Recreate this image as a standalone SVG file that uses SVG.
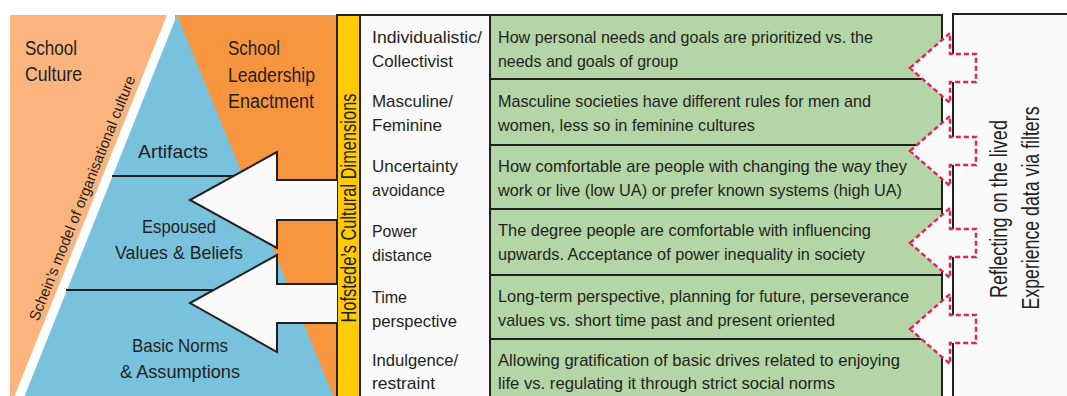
<svg xmlns="http://www.w3.org/2000/svg" width="1067" height="396" viewBox="0 0 1067 396">
<defs>
<style>
text{font-family:"Liberation Sans",Arial,sans-serif;fill:#231F20;}
.lbl{font-size:17px;}
.big{font-size:20px;}
.lay{font-size:19px;text-anchor:middle;}
.edge{stroke:#231F20;stroke-width:2;}
.bigarrow{fill:#FAFAFA;stroke:#231F20;stroke-width:2;stroke-linejoin:miter;}
.dash{fill:#FAFAFA;stroke:#E2235C;stroke-width:2.5;stroke-dasharray:5 3;}
</style>
</defs>
<rect x="0" y="0" width="1067" height="396" fill="#FFFFFF"/>

<g id="school-culture">
<polygon points="10,15 167,15 13,400 10,400" fill="#FCB47E"/>
<text class="big" x="25" y="55" textLength="52" lengthAdjust="spacingAndGlyphs">School</text>
<text class="big" x="25" y="81" textLength="57" lengthAdjust="spacingAndGlyphs">Culture</text>
<text font-size="15" text-anchor="middle" transform="translate(87,200) rotate(-68.2)" textLength="262" lengthAdjust="spacingAndGlyphs">Schein’s model of organisational culture</text>
</g>

<g id="school-leadership">
<rect x="175" y="15" width="162" height="385" fill="#F8963F"/>
<text class="big" x="228" y="55" textLength="52" lengthAdjust="spacingAndGlyphs">School</text>
<text class="big" x="228" y="82" textLength="87" lengthAdjust="spacingAndGlyphs">Leadership</text>
<text class="big" x="228" y="108" textLength="86" lengthAdjust="spacingAndGlyphs">Enactment</text>
</g>

<g id="schein-pyramid">
<polygon points="177,15 335,400 23,400" fill="#79C2DD"/>
<text class="lay" x="173" y="158" textLength="70" lengthAdjust="spacingAndGlyphs">Artifacts</text>
<text class="lay" x="179" y="233" textLength="74" lengthAdjust="spacingAndGlyphs">Espoused</text>
<text class="lay" x="179" y="259" textLength="128" lengthAdjust="spacingAndGlyphs">Values &amp; Beliefs</text>
<text class="lay" x="180" y="352" textLength="96" lengthAdjust="spacingAndGlyphs">Basic Norms</text>
<text class="lay" x="180" y="378" textLength="120" lengthAdjust="spacingAndGlyphs">&amp; Assumptions</text>
</g>

<g id="hofstede-bar">
<rect x="337" y="15" width="23" height="385" fill="#FFCB05" class="edge"/>
<text font-size="22" text-anchor="middle" transform="translate(356,208) rotate(-90)" textLength="229" lengthAdjust="spacingAndGlyphs">Hofstede’s Cultural Dimensions</text>
</g>

<g id="dimension-names">
<rect x="360" y="15" width="130" height="385" fill="#FAFAFA" class="edge"/>
<text class="lbl" x="372" y="43" textLength="110" lengthAdjust="spacingAndGlyphs">Individualistic/</text>
<text class="lbl" x="372" y="67" textLength="81" lengthAdjust="spacingAndGlyphs">Collectivist</text>
<text class="lbl" x="372" y="107" textLength="81" lengthAdjust="spacingAndGlyphs">Masculine/</text>
<text class="lbl" x="372" y="131" textLength="70" lengthAdjust="spacingAndGlyphs">Feminine</text>
<text class="lbl" x="372" y="172" textLength="86" lengthAdjust="spacingAndGlyphs">Uncertainty</text>
<text class="lbl" x="372" y="196" textLength="73" lengthAdjust="spacingAndGlyphs">avoidance</text>
<text class="lbl" x="372" y="237" textLength="45" lengthAdjust="spacingAndGlyphs">Power</text>
<text class="lbl" x="372" y="261" textLength="60" lengthAdjust="spacingAndGlyphs">distance</text>
<text class="lbl" x="372" y="303" textLength="35" lengthAdjust="spacingAndGlyphs">Time</text>
<text class="lbl" x="372" y="327" textLength="85" lengthAdjust="spacingAndGlyphs">perspective</text>
<text class="lbl" x="372" y="366" textLength="86" lengthAdjust="spacingAndGlyphs">Indulgence/</text>
<text class="lbl" x="372" y="389" textLength="63" lengthAdjust="spacingAndGlyphs">restraint</text>
</g>

<g id="dimension-descriptions">
<rect x="490" y="15" width="452" height="385" fill="#B4D6A6" class="edge"/>
<line class="edge" x1="490" y1="79" x2="942" y2="79"/>
<line class="edge" x1="490" y1="145" x2="942" y2="145"/>
<line class="edge" x1="490" y1="209" x2="942" y2="209"/>
<line class="edge" x1="490" y1="275" x2="942" y2="275"/>
<line class="edge" x1="490" y1="339" x2="942" y2="339"/>
<text class="lbl" x="498" y="43" textLength="375" lengthAdjust="spacingAndGlyphs">How personal needs and goals are prioritized vs. the</text>
<text class="lbl" x="498" y="67" textLength="180" lengthAdjust="spacingAndGlyphs">needs and goals of group</text>
<text class="lbl" x="498" y="107" textLength="373" lengthAdjust="spacingAndGlyphs">Masculine societies have different rules for men and</text>
<text class="lbl" x="498" y="131" textLength="257" lengthAdjust="spacingAndGlyphs">women, less so in feminine cultures</text>
<text class="lbl" x="498" y="172" textLength="409" lengthAdjust="spacingAndGlyphs">How comfortable are people with changing the way they</text>
<text class="lbl" x="498" y="196" textLength="404" lengthAdjust="spacingAndGlyphs">work or live (low UA) or prefer known systems (high UA)</text>
<text class="lbl" x="498" y="236" textLength="373" lengthAdjust="spacingAndGlyphs">The degree people are comfortable with influencing</text>
<text class="lbl" x="498" y="260" textLength="367" lengthAdjust="spacingAndGlyphs">upwards. Acceptance of power inequality in society</text>
<text class="lbl" x="498" y="302" textLength="411" lengthAdjust="spacingAndGlyphs">Long-term perspective, planning for future, perseverance</text>
<text class="lbl" x="498" y="326" textLength="337" lengthAdjust="spacingAndGlyphs">values vs. short time past and present oriented</text>
<text class="lbl" x="498" y="366" textLength="402" lengthAdjust="spacingAndGlyphs">Allowing gratification of basic drives related to enjoying</text>
<text class="lbl" x="498" y="389" textLength="337" lengthAdjust="spacingAndGlyphs">life vs. regulating it through strict social norms</text>
</g>

<g id="reflection-panel">
<rect x="953" y="14" width="130" height="400" fill="#FAFAFA" class="edge"/>
<text font-size="23" text-anchor="middle" transform="translate(1007,209) rotate(-90)" textLength="178" lengthAdjust="spacingAndGlyphs">Reflecting on the lived</text>
<text font-size="23" text-anchor="middle" transform="translate(1039,208) rotate(-90)" textLength="203" lengthAdjust="spacingAndGlyphs">Experience data via filters</text>
</g>

<g id="connectors">
<line class="edge" x1="112" y1="176" x2="240" y2="176"/>
<line class="edge" x1="66" y1="290" x2="222" y2="290"/>
<path class="bigarrow" d="M337,180 H277 V152 L190,200 L277,248 V220 H337"/>
<path class="bigarrow" d="M337,284 H277 V255 L190,303 L277,352 V323 H337"/>
<path class="dash" d="M910,68 L950,33 V54 H976 V82 H950 V103 Z"/>
<path class="dash" d="M910,151 L950,116 V137 H976 V165 H950 V186 Z"/>
<path class="dash" d="M910,243 L950,208 V229 H976 V257 H950 V278 Z"/>
<path class="dash" d="M910,329 L950,294 V315 H976 V343 H950 V364 Z"/>
</g>
</svg>
